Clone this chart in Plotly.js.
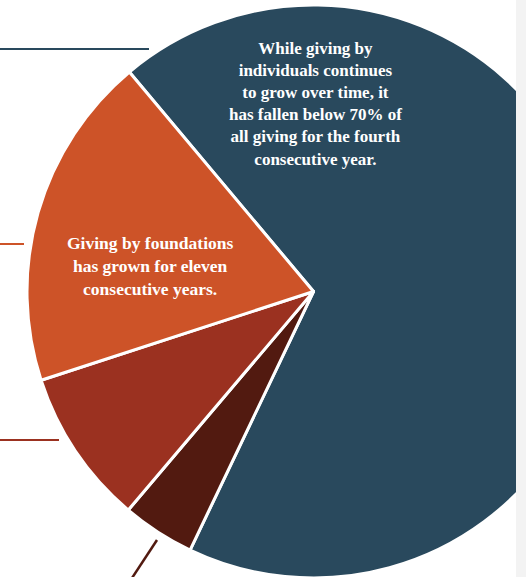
<!DOCTYPE html>
<html>
<head>
<meta charset="utf-8">
<script src="https://cdn.plot.ly/plotly-3.0.1.min.js"></script>
<style>
  html, body { margin: 0; padding: 0; background: #ffffff; overflow: hidden; width: 526px; height: 577px; }
  #chart { width: 640px; height: 600px; }
</style>
</head>
<body>
<div id="chart"></div>
<script>
// Data (share of total giving, %), in clockwise drawing order
const categories = ["Individuals", "Corporations", "Bequests", "Foundations"];
const shares = [68.2, 4.1, 8.8, 18.9];
const sliceColors = ["#29495d", "#521a10", "#9b3120", "#cd5328"];

const noteIndividuals = "While giving by<br>individuals continues<br>to grow over time, it<br>has fallen below 70% of<br>all giving for the fourth<br>consecutive year.";
const noteFoundations = "Giving by foundations<br>has grown for eleven<br>consecutive years.";

// Layout geometry (pixels of a 640x600 canvas, cropped by the window)
const W = 640, H = 600;
const cx = 313.5, cy = 291.5, R = 286.5;
const px = x => x / W;
const py = y => 1 - y / H;

const trace = {
  type: "pie",
  labels: categories,
  values: shares,
  sort: false,
  direction: "clockwise",
  rotation: 320,
  textinfo: "none",
  hoverinfo: "label+percent",
  marker: { colors: sliceColors, line: { color: "#ffffff", width: 3 } },
  domain: { x: [px(cx - R), px(cx + R)], y: [py(cy + R), py(cy - R)] },
  showlegend: false
};

const font1 = { family: "Liberation Serif, serif", size: 17, color: "#ffffff", weight: "bold" };
const font2 = { family: "Liberation Serif, serif", size: 17.5, color: "#ffffff", weight: "bold" };

const layout = {
  width: W, height: H,
  margin: { l: 0, r: 0, t: 0, b: 0 },
  paper_bgcolor: "#ffffff",
  showlegend: false,
  shapes: [
    { type: "line", xref: "paper", yref: "paper", x0: px(0), x1: px(149), y0: py(49), y1: py(49), line: { color: "#29495d", width: 2 }, layer: "above" },
    { type: "line", xref: "paper", yref: "paper", x0: px(0), x1: px(24), y0: py(244), y1: py(244), line: { color: "#cd5328", width: 2 }, layer: "above" },
    { type: "line", xref: "paper", yref: "paper", x0: px(0), x1: px(59), y0: py(440), y1: py(440), line: { color: "#9b3120", width: 2 }, layer: "above" },
    { type: "line", xref: "paper", yref: "paper", x0: px(157), x1: px(132), y0: py(540), y1: py(578), line: { color: "#521a10", width: 2.5 }, layer: "above" },
    { type: "rect", xref: "paper", yref: "paper", x0: px(516), x1: 1, y0: 0, y1: 1, fillcolor: "#f3f3f3", line: { width: 0 }, layer: "above" }
  ],
  annotations: [
    { xref: "paper", yref: "paper", x: px(315), y: py(104), xanchor: "center", yanchor: "middle", align: "center",
      showarrow: false, text: noteIndividuals, font: font1 },
    { xref: "paper", yref: "paper", x: px(150), y: py(266), xanchor: "center", yanchor: "middle", align: "center",
      showarrow: false, text: noteFoundations, font: font2 }
  ]
};

Plotly.newPlot("chart", [trace], layout, { displayModeBar: false, staticPlot: true });
</script>
</body>
</html>
